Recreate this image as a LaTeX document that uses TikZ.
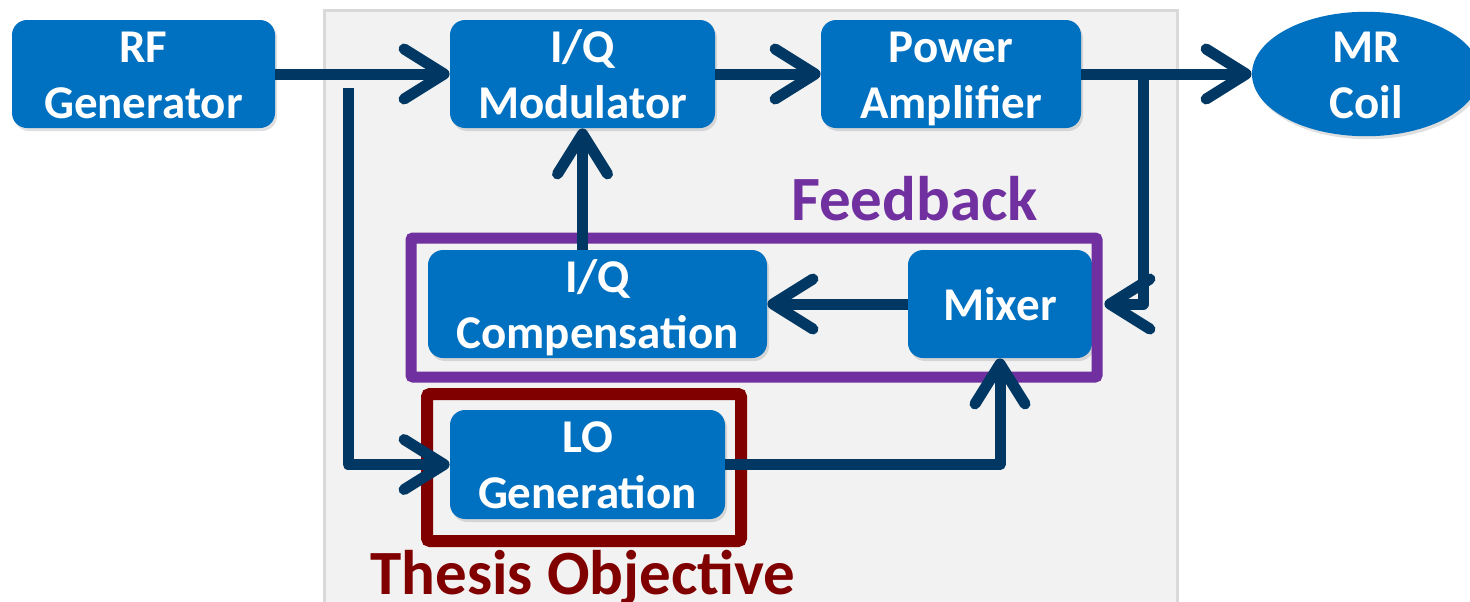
\documentclass[tikz,border=0pt]{standalone}
\usepackage{fontspec}
\setmainfont{Carlito}
\usetikzlibrary{arrows.meta,shadows,shapes.geometric}
\definecolor{boxblue}{RGB}{0,112,192}
\definecolor{navy}{RGB}{0,56,99}
\definecolor{fbpurple}{RGB}{112,48,160}
\definecolor{thred}{RGB}{128,0,0}
\definecolor{panelgray}{RGB}{242,242,242}
\definecolor{panelline}{RGB}{217,217,217}
\tikzset{
  blk/.style={fill=boxblue, rounded corners=7.5pt, inner sep=0pt, text=white,
    font=\fontsize{23.5}{28}\selectfont\bfseries, align=center,
    drop shadow={shadow xshift=1pt, shadow yshift=-1.5pt, opacity=0.25}},
  twoline/.style={text height=44pt, text depth=0pt},
  arr/.style={draw=navy, line width=5.5pt, line join=round,
    -{Straight Barb[length=20pt,width=25pt,round]}},
  bigtxt/.style={font=\fontsize{31.5}{36}\selectfont\bfseries, inner sep=0pt, anchor=base}
}
\begin{document}
\begin{tikzpicture}[x=0.5pt,y=-0.5pt]
\useasboundingbox (0,0) rectangle (1470,601);
\clip (0,0) rectangle (1470,601);
% panel
\fill[panelgray, draw=panelline, line width=1.5pt] (324,10) rectangle (1177,640);
% nodes
\node[blk, twoline, minimum width=131.5pt, minimum height=54pt] (rf) at (143.5,74) {RF\\Generator};
\node[blk, twoline, minimum width=132.5pt, minimum height=54pt] (iqm) at (582.5,74) {I/Q\\Modulator};
\node[blk, twoline, minimum width=130pt, minimum height=54pt] (pa) at (951,74) {Power\\Amplifier};
\node[blk, twoline, ellipse, rounded corners=0pt, inner sep=0pt, minimum width=114pt, minimum height=54pt] (mr) at (1366,74) {MR\\Coil};
\node[blk, twoline, minimum width=169.5pt, minimum height=54pt] (iqc) at (597.5,304) {I/Q\\Compensation};
\node[blk, minimum width=92pt, minimum height=54pt] (mix) at (1000,304) {Mixer};
\node[blk, twoline, minimum width=137.5pt, minimum height=54.5pt] (lo) at (587.5,464.5) {LO\\Generation};
% frames
\node[draw=fbpurple, line width=5.5pt, rounded corners=1pt, inner sep=0pt,
  minimum width=343pt, minimum height=69.5pt] (fbbox) at (754,307.5) {};
\node[draw=thred, line width=6pt, rounded corners=1.5pt, inner sep=0pt,
  minimum width=157pt, minimum height=73.5pt] (thbox) at (584,467.5) {};
\node[bigtxt, text=fbpurple] (fbtxt) at (914.5,220) {Feedback};
\node[bigtxt, text=thred] (thtxt) at (583,594) {Thesis Objective};
% connectors
\coordinate (br) at (1143,74);
\coordinate (lb) at (348,88);
\draw[arr] (rf.east) -- (iqm.west);
\draw[arr] (iqm.east) -- (pa.west);
\draw[arr] (pa.east) -- (mr.west);
\draw[arr, shorten >=6pt] (br) |- (mix.east);
\draw[arr] (mix.west) -- (mix.west -| iqc.east);
\draw[arr] (iqm.south |- iqc.north) -- (iqm.south);
\draw[arr] (lb) |- (lo.west);
\draw[arr] (lo.east) -| (mix.south);
\end{tikzpicture}
\end{document}
